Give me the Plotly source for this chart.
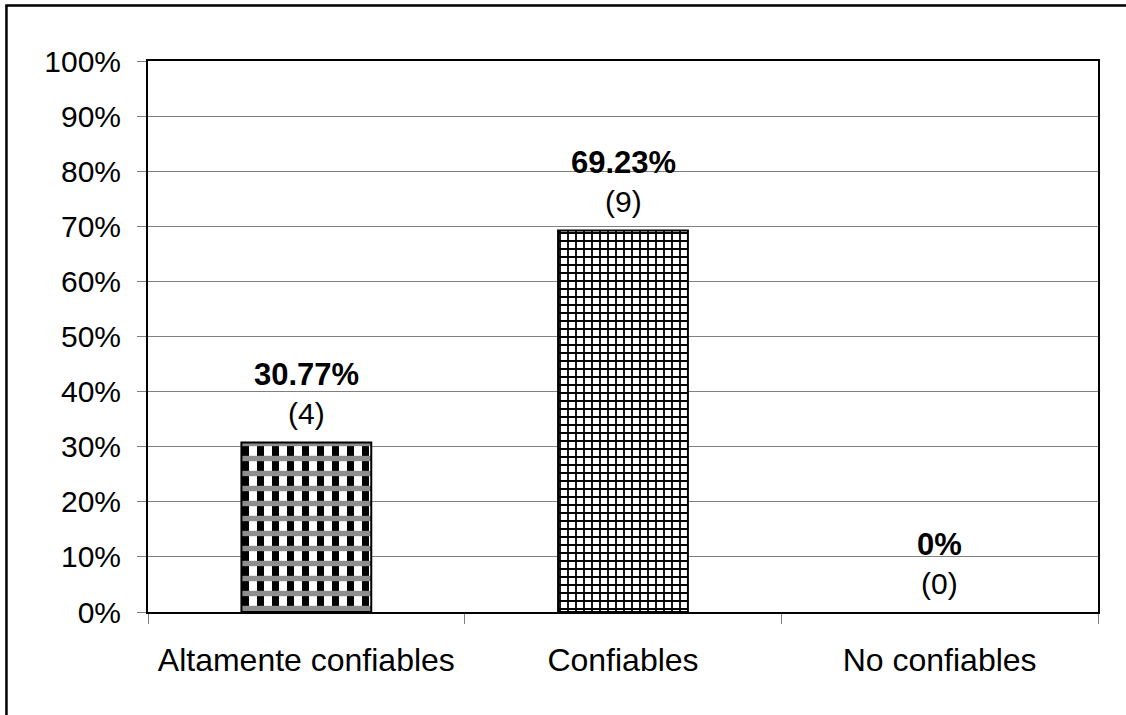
import plotly.graph_objects as go

# Survey result: reliability rating of the sources
categories = ["Altamente confiables", "Confiables", "No confiables"]
percentages = [30.77, 69.23, 0.0]
counts = [4, 9, 0]
pct_labels = ["30.77%", "69.23%", "0%"]

y_ticks = list(range(0, 101, 10))
y_tick_labels = [f"{v}%" for v in y_ticks]

FONT = "Liberation Sans, Arial, sans-serif"

# Zero-height bars get no outline
outline_widths = [2 if v > 0 else 0 for v in percentages]

fig = go.Figure()

# Base fill of each bar: vertical stripes / fine grid
fig.add_trace(go.Bar(
    x=categories,
    y=percentages,
    width=0.41,
    marker=dict(
        color="white",
        line=dict(color="black", width=0),
        pattern=dict(
            shape=["|", "+", ""],
            size=[15, 8, 8],
            solidity=[0.47, 0.4, 0.3],
            fgcolor=["black", "black", "black"],
            bgcolor=["white", "white", "white"],
            fillmode="replace",
        ),
    ),
    hoverinfo="skip",
    showlegend=False,
))

# Gray horizontal bands for the checkered first bar, plus the bar outlines
fig.add_trace(go.Bar(
    x=categories,
    y=percentages,
    width=0.41,
    marker=dict(
        color="rgba(0,0,0,0)",
        line=dict(color="black", width=outline_widths),
        pattern=dict(
            shape=["-", "", ""],
            size=15,
            solidity=0.36,
            fgcolor="#8e8e8e",
            bgcolor="rgba(0,0,0,0)",
            fillmode="replace",
        ),
    ),
    hoverinfo="skip",
    showlegend=False,
))

# Value labels above each bar
for cat, pct, lab, n in zip(categories, percentages, pct_labels, counts):
    fig.add_annotation(
        x=cat, y=pct, text=f"<b>{lab}</b>", showarrow=False,
        yanchor="middle", yshift=68,
        font=dict(family=FONT, size=31, color="black"),
    )
    fig.add_annotation(
        x=cat, y=pct, text=f"({n})", showarrow=False,
        yanchor="middle", yshift=29,
        font=dict(family=FONT, size=30, color="black"),
    )

# Outer frame around the whole chart
fig.add_shape(
    type="rect", xref="paper", yref="paper",
    x0=-0.149, x1=1.04, y0=-0.21, y1=1.1007,
    line=dict(color="black", width=2.5),
    fillcolor="rgba(0,0,0,0)",
)

fig.update_layout(
    width=1126, height=715,
    margin=dict(l=148, r=28, t=61, b=103),
    paper_bgcolor="white",
    plot_bgcolor="white",
    barmode="overlay",
    font=dict(family=FONT, size=30, color="black"),
)

fig.update_xaxes(
    type="category",
    showline=True, linecolor="black", linewidth=2, mirror=True,
    ticks="outside", tickson="boundaries", ticklen=10, tickcolor="#808080", tickwidth=1,
    ticklabelstandoff=19,
    showgrid=False,
    tickfont=dict(family=FONT, size=32, color="black"),
)

fig.update_yaxes(
    range=[0, 100],
    tickvals=y_ticks, ticktext=y_tick_labels,
    showline=True, linecolor="black", linewidth=2, mirror=True,
    ticks="outside", ticklen=9, tickcolor="#808080", tickwidth=1,
    ticklabelstandoff=10,
    showgrid=True, gridcolor="#808080", gridwidth=1,
    zeroline=False,
    tickfont=dict(family=FONT, size=30, color="black"),
)

fig.write_html("out.html")
